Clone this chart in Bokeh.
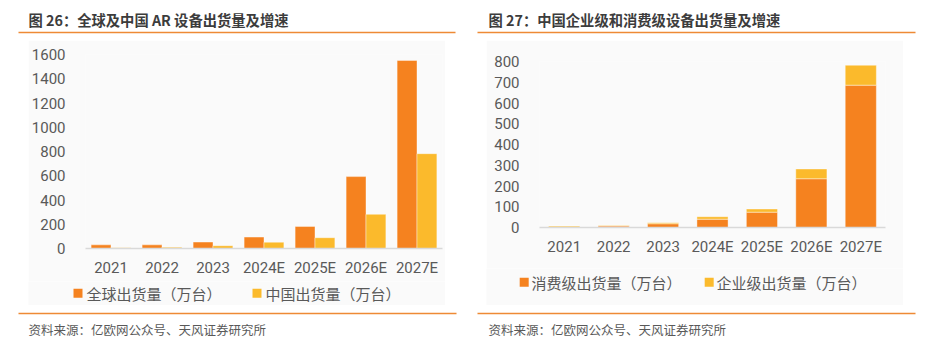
from bokeh.plotting import figure
from bokeh.layouts import row, column
from bokeh.models import FactorRange, Range1d, FixedTicker, Spacer, ColumnDataSource
from bokeh.transform import dodge
from bokeh.core.properties import value
from bokeh.embed import file_html
from bokeh.resources import INLINE

# ---------------- data ----------------
years = ["2021", "2022", "2023", "2024E", "2025E", "2026E", "2027E"]
global_ship = [30, 30, 53, 94, 182, 593, 1551]
china_ship = [7, 10, 23, 52, 89, 282, 782]
consumer_ship = [3, 7, 18, 40, 74, 235, 686]
enterprise_ship = [4, 3, 5, 12, 15, 47, 96]
left_ticks = [0, 200, 400, 600, 800, 1000, 1200, 1400, 1600]
right_ticks = [0, 100, 200, 300, 400, 500, 600, 700, 800]

title_left = "图 26：全球及中国 AR 设备出货量及增速"
title_right = "图 27：中国企业级和消费级设备出货量及增速"
legend_left = ["全球出货量（万台）", "中国出货量（万台）"]
legend_right = ["消费级出货量（万台）", "企业级出货量（万台）"]
source_text = "资料来源：亿欧网公众号、天风证券研究所"

# ---------------- style ----------------
ORANGE = "#F5821F"
YELLOW = "#FBBA2C"
RULE = "#EE8A35"
BG = "#FAFAFA"
TXT = "#595959"
TITLE_C = "#3C3C3C"
CJK = "Noto Sans CJK SC"
NUM = "Roboto"


def band(text, height, text_x, text_y, line_x0, line_x1, line_y, size, style, color):
    f = figure(width=466, height=height, x_range=Range1d(0, 466), y_range=Range1d(height, 0),
               output_backend="svg", toolbar_location=None, x_axis_type=None, y_axis_type=None,
               min_border=0)
    f.outline_line_color = None
    f.background_fill_color = "white"
    f.border_fill_color = "white"
    f.segment(x0=[line_x0], y0=[line_y], x1=[line_x1], y1=[line_y], line_color=RULE, line_width=1.5)
    f.text(x=[text_x], y=[text_y], text=[text], text_font=value(CJK), text_font_size=size,
           text_font_style=style, text_color=color, text_baseline="middle", text_align="left")
    return f


def chart(ticks, ymax, height, mb_left, mb_right, mb_top, mb_bottom):
    p = figure(width=417, height=height, x_range=FactorRange(*years), y_range=Range1d(0, ymax),
               output_backend="svg", toolbar_location=None,
               min_border_left=mb_left, min_border_right=mb_right,
               min_border_top=mb_top, min_border_bottom=mb_bottom)
    p.background_fill_color = BG
    p.border_fill_color = BG
    p.outline_line_color = None
    p.xgrid.visible = False
    p.ygrid.visible = False
    p.yaxis.ticker = FixedTicker(ticks=ticks)
    p.yaxis.axis_line_color = None
    p.yaxis.major_tick_line_color = None
    p.yaxis.minor_tick_line_color = None
    p.yaxis.major_label_standoff = 14
    p.xaxis.axis_line_color = "#D9D9D9"
    p.xaxis.axis_line_width = 1.5
    p.xaxis.major_tick_line_color = None
    p.xaxis.minor_tick_line_color = None
    p.xaxis.major_label_standoff = 4
    p.axis.major_label_text_font = NUM
    p.axis.major_label_text_font_size = "15px"
    p.axis.major_label_text_color = TXT
    return p


def legend_fig(labels, height, cy, swatch_x, text_x):
    # legend strip: two colour swatches and their labels
    f = figure(width=417, height=height, x_range=Range1d(0, 417), y_range=Range1d(height, 0),
               output_backend="svg", toolbar_location=None, x_axis_type=None, y_axis_type=None,
               min_border=0)
    f.outline_line_color = None
    f.background_fill_color = BG
    f.border_fill_color = BG
    f.rect(x=swatch_x, y=[cy, cy], width=9, height=9, fill_color=[ORANGE, YELLOW], line_color=None)
    f.text(x=text_x, y=[cy, cy], text=labels, text_font=value(CJK), text_font_size="15px",
           text_color=TXT, text_baseline="middle", text_align="left")
    return f


# ---------------- left panel ----------------
src_l = ColumnDataSource(dict(year=years, glob=global_ship, china=china_ship))
pl = chart(left_ticks, 1600, 241, 53, 3, 14, 33)
pl.vbar(x=dodge("year", -0.195, range=pl.x_range), top="glob", width=0.39, source=src_l,
        fill_color=ORANGE, line_color="white", line_alpha=0.4, line_width=1)
pl.vbar(x=dodge("year", 0.195, range=pl.x_range), top="china", width=0.39, source=src_l,
        fill_color=YELLOW, line_color="white", line_alpha=0.4, line_width=1)
leg_l = legend_fig(legend_left, 24, 11.7, [49.5, 228.5], [58, 237])

head_l = band(title_left, 40, 28, 18.5, 18, 455, 32, "14.3px", "bold", TITLE_C)
foot_l = band(source_text, 49, 28, 24, 18, 456, 8, "12.5px", "normal", TXT)
panel_l = column(head_l,
                 row(Spacer(width=28, height=241), pl, Spacer(width=21, height=241)),
                 row(Spacer(width=28, height=24), leg_l, Spacer(width=21, height=24)),
                 foot_l)

# ---------------- right panel ----------------
src_r = ColumnDataSource(dict(year=years, consumer=consumer_ship, enterprise=enterprise_ship))
pr = chart(right_ticks, 800, 228, 53, 18, 21, 41)
pr.vbar_stack(["consumer", "enterprise"], x="year", width=0.63, source=src_r,
              fill_color=[ORANGE, YELLOW], line_color="white", line_alpha=0.4, line_width=1)
leg_r = legend_fig(legend_right, 37, 13.7, [37.7, 222.7], [45, 230])

head_r = band(title_right, 40, 22, 18.5, 11, 449, 32, "14.3px", "bold", TITLE_C)
foot_r = band(source_text, 49, 22, 24, 11, 449, 8, "12.5px", "normal", TXT)
panel_r = column(head_r,
                 row(Spacer(width=20, height=228), pr, Spacer(width=29, height=228)),
                 row(Spacer(width=20, height=37), leg_r, Spacer(width=29, height=37)),
                 foot_r)

page = row(panel_l, panel_r)
open("out.html", "w").write(file_html(page, INLINE))
